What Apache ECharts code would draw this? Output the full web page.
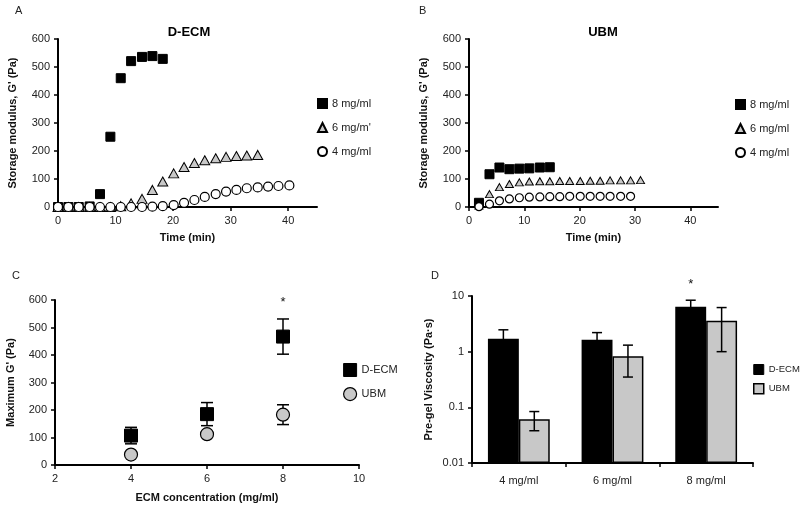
<!DOCTYPE html>
<html><head><meta charset="utf-8">
<script src="https://cdn.jsdelivr.net/npm/echarts@6/dist/echarts.min.js"></script>
<style>html,body{margin:0;padding:0;background:#fff}#c{width:800px;height:508px}</style>
</head><body><div id="c"></div>
<script>
// ---------- Panel A: D-ECM storage modulus vs time ----------
const timeA8 = [0, 1.8, 3.6, 5.5, 7.3, 9.1, 10.9, 12.7, 14.6, 16.4, 18.2];
const gA8    = [0, 0, 0, 2, 46, 251, 460, 521, 536, 539, 529];
const timeA6 = [0, 1.8, 3.6, 5.5, 7.3, 9.1, 10.9, 12.7, 14.6, 16.4, 18.2, 20.1, 21.9, 23.7, 25.5, 27.4, 29.2, 31.0, 32.8, 34.7];
const gA6    = [0, 0, 0, 0, 0, 0, 3, 13, 29, 61, 91, 120, 143, 157, 167, 174, 179, 182, 184, 186];
const timeA4 = [0, 1.8, 3.6, 5.5, 7.3, 9.1, 10.9, 12.7, 14.6, 16.4, 18.2, 20.1, 21.9, 23.7, 25.5, 27.4, 29.2, 31.0, 32.8, 34.7, 36.5, 38.3, 40.2];
const gA4    = [0, 0, 0, 0, 0, 0, 0, 0, 0, 1, 3, 7, 15, 25, 36, 46, 55, 61, 67, 70, 73, 75, 77];
const legendA = ["8 mg/ml", "6 mg/m'", "4 mg/ml"];

// ---------- Panel B: UBM storage modulus vs time ----------
const timeB8 = [1.8, 3.7, 5.5, 7.3, 9.1, 10.9, 12.8, 14.6];
const gB8    = [15, 117, 141, 135, 137, 138, 141, 142];
const timeB6 = [1.8, 3.7, 5.5, 7.3, 9.1, 10.9, 12.8, 14.6, 16.4, 18.2, 20.1, 21.9, 23.7, 25.5, 27.4, 29.2, 31.0];
const gB6    = [5, 46, 71, 82, 88, 91, 92, 92, 93, 93, 93, 94, 94, 95, 95, 95, 96];
const timeB4 = [1.8, 3.7, 5.5, 7.3, 9.1, 10.9, 12.8, 14.6, 16.4, 18.2, 20.1, 21.9, 23.7, 25.5, 27.4, 29.2];
const gB4    = [1, 10, 22, 29, 33, 35, 36, 37, 37, 38, 38, 38, 38, 38, 38, 38];
const legendB = ["8 mg/ml", "6 mg/ml", "4 mg/ml"];

// ---------- Panel C: maximum G' vs concentration ----------
const concC   = [4, 6, 8];
const dEcmMax = [107, 185, 467];
const dEcmSdC = [30, 42, 64];
const ubmMax  = [38, 112, 183];
const ubmSdC  = [5, 8, 36];
const starC   = [[8, 590]];

// ---------- Panel D: pre-gel viscosity ----------
const catsD    = ['4 mg/ml', '6 mg/ml', '8 mg/ml'];
const dEcmVisc = [1.71, 1.64, 6.4];
const dEcmSdD  = [0.76, 0.56, 2.0];
const ubmVisc  = [0.061, 0.83, 3.6];
const ubmSdD   = [0.023, 0.48, 2.6];
const starD    = [[2, 16]];

const FONT = 'Liberation Sans, Arial, sans-serif';
const zip = (a, b) => a.map((v, i) => [v, b[i]]);

function axisBase(extra) {
  return Object.assign({
    axisLine: { show: true, onZero: false, lineStyle: { color: '#000', width: 2 } },
    axisTick: { show: true, inside: false, length: 4, lineStyle: { color: '#000', width: 1.5 } },
    axisLabel: { color: '#222', fontSize: 11, fontFamily: FONT },
    splitLine: { show: false },
    nameTextStyle: { color: '#111', fontSize: 11, fontWeight: 'bold', fontFamily: FONT }
  }, extra);
}

const grids = [
  { left: 58, top: 39, width: 259, height: 168 },
  { left: 469, top: 39, width: 249, height: 168 },
  { left: 55, top: 300, width: 304, height: 165 },
  { left: 472, top: 296, width: 281, height: 167 }
];

const xAxes = [
  axisBase({ gridIndex: 0, type: 'value', min: 0, max: 45, interval: 10, name: 'Time (min)', nameLocation: 'middle', nameGap: 25,
    axisLabel: { color: '#222', fontSize: 11, fontFamily: FONT, showMaxLabel: false } }),
  axisBase({ gridIndex: 1, type: 'value', min: 0, max: 45, interval: 10, name: 'Time (min)', nameLocation: 'middle', nameGap: 25,
    axisLabel: { color: '#222', fontSize: 11, fontFamily: FONT, showMaxLabel: false } }),
  axisBase({ gridIndex: 2, type: 'value', min: 2, max: 10, interval: 2, name: 'ECM concentration (mg/ml)', nameLocation: 'middle', nameGap: 27 }),
  axisBase({ gridIndex: 3, type: 'category', data: catsD, axisLabel: { color: '#222', fontSize: 11, fontFamily: FONT, margin: 12 } })
];

const yAxes = [
  axisBase({ gridIndex: 0, type: 'value', min: 0, max: 600, interval: 100, name: "Storage modulus, G' (Pa)", nameLocation: 'middle', nameGap: 40 }),
  axisBase({ gridIndex: 1, type: 'value', min: 0, max: 600, interval: 100, name: "Storage modulus, G' (Pa)", nameLocation: 'middle', nameGap: 40 }),
  axisBase({ gridIndex: 2, type: 'value', min: 0, max: 600, interval: 100, name: "Maximum G' (Pa)", nameLocation: 'middle', nameGap: 39 }),
  axisBase({ gridIndex: 3, type: 'log', logBase: 10, min: 0.01, max: 10, startValue: 0.01, name: 'Pre-gel Viscosity (Pa·s)', nameLocation: 'middle', nameGap: 38,
    axisLabel: { color: '#222', fontSize: 11, fontFamily: FONT, formatter: v => String(+v.toPrecision(2)) } })
];

const sq = { color: '#000', borderColor: '#000', borderWidth: 1, opacity: 1 };
const tri = { color: '#c8c8c8', borderColor: '#000', borderWidth: 1, opacity: 1 };
const circ = { color: '#fff', borderColor: '#000', borderWidth: 1.2, opacity: 1 };
const greyCirc = { color: '#c8c8c8', borderColor: '#000', borderWidth: 1.2, opacity: 1 };

function errBarC(xi, yi, means, sds, hw) {
  return {
    type: 'custom', xAxisIndex: xi, yAxisIndex: yi, z: 1, silent: true,
    data: concC.map((c, i) => [c, means[i], sds[i]]),
    renderItem: (p, api) => {
      const x = api.value(0), y = api.value(1), e = api.value(2);
      const t = api.coord([x, y + e]), b = api.coord([x, y - e]);
      const st = { stroke: '#000', lineWidth: 1.5 };
      return { type: 'group', children: [
        { type: 'line', shape: { x1: t[0], y1: t[1], x2: b[0], y2: b[1] }, style: st },
        { type: 'line', shape: { x1: t[0] - hw, y1: t[1], x2: t[0] + hw, y2: t[1] }, style: st },
        { type: 'line', shape: { x1: b[0] - hw, y1: b[1], x2: b[0] + hw, y2: b[1] }, style: st }
      ] };
    }
  };
}

function errBarD(means, sds, off) {
  return {
    type: 'custom', xAxisIndex: 3, yAxisIndex: 3, z: 5, silent: true,
    data: means.map((m, i) => [i, m, sds[i]]),
    renderItem: (p, api) => {
      const i = api.value(0), y = api.value(1), e = api.value(2);
      const band = api.coord([1, 1])[0] - api.coord([0, 1])[0];
      const t = api.coord([i, y + e]), b = api.coord([i, y - e]);
      const x = t[0] + off * band, hw = 5;
      const st = { stroke: '#000', lineWidth: 1.5 };
      return { type: 'group', children: [
        { type: 'line', shape: { x1: x, y1: t[1], x2: x, y2: b[1] }, style: st },
        { type: 'line', shape: { x1: x - hw, y1: t[1], x2: x + hw, y2: t[1] }, style: st },
        { type: 'line', shape: { x1: x - hw, y1: b[1], x2: x + hw, y2: b[1] }, style: st }
      ] };
    }
  };
}

function starSeries(xi, yi, pts, off) {
  return {
    type: 'custom', xAxisIndex: xi, yAxisIndex: yi, z: 6, silent: true, clip: false,
    data: pts,
    renderItem: (p, api) => {
      const c = api.coord([api.value(0), api.value(1)]);
      let dx = 0;
      if (off) dx = off * (api.coord([1, 1])[0] - api.coord([0, 1])[0]);
      return { type: 'text', x: c[0] + dx, y: c[1], style: { text: '*', fill: '#111', fontSize: 13, fontFamily: FONT, align: 'center', verticalAlign: 'middle' } };
    }
  };
}

const series = [
  { name: legendA[0], type: 'scatter', xAxisIndex: 0, yAxisIndex: 0, symbol: 'rect', symbolSize: 9, itemStyle: sq, data: zip(timeA8, gA8), clip: false },
  { name: legendA[1], type: 'scatter', xAxisIndex: 0, yAxisIndex: 0, symbol: 'triangle', symbolSize: [10, 9], itemStyle: tri, data: zip(timeA6, gA6), clip: false },
  { name: legendA[2], type: 'scatter', xAxisIndex: 0, yAxisIndex: 0, symbol: 'circle', symbolSize: 9, itemStyle: circ, data: zip(timeA4, gA4), clip: false },
  { name: legendB[0], type: 'scatter', xAxisIndex: 1, yAxisIndex: 1, symbol: 'rect', symbolSize: 9, itemStyle: sq, data: zip(timeB8, gB8), clip: false },
  { name: legendB[1], type: 'scatter', xAxisIndex: 1, yAxisIndex: 1, symbol: 'triangle', symbolSize: [8, 7], itemStyle: tri, data: zip(timeB6, gB6), clip: false },
  { name: legendB[2], type: 'scatter', xAxisIndex: 1, yAxisIndex: 1, symbol: 'circle', symbolSize: 8, itemStyle: circ, data: zip(timeB4, gB4), clip: false },
  errBarC(2, 2, dEcmMax, dEcmSdC, 6),
  errBarC(2, 2, ubmMax, ubmSdC, 6),
  { name: 'D-ECM', type: 'scatter', xAxisIndex: 2, yAxisIndex: 2, z: 3, symbol: 'rect', symbolSize: 13, itemStyle: sq, data: zip(concC, dEcmMax) },
  { name: 'UBM', type: 'scatter', xAxisIndex: 2, yAxisIndex: 2, z: 3, symbol: 'circle', symbolSize: 13, itemStyle: greyCirc, data: zip(concC, ubmMax) },
  starSeries(2, 2, starC, 0),
  { name: 'D-ECM', type: 'bar', xAxisIndex: 3, yAxisIndex: 3, barGap: 0, barCategoryGap: '34%', itemStyle: { color: '#000', borderColor: '#000', borderWidth: 1.5 }, data: dEcmVisc },
  { name: 'UBM', type: 'bar', xAxisIndex: 3, yAxisIndex: 3, barGap: 0, barCategoryGap: '34%', itemStyle: { color: '#c8c8c8', borderColor: '#000', borderWidth: 1.5 }, data: ubmVisc },
  errBarD(dEcmVisc, dEcmSdD, -0.165),
  errBarD(ubmVisc, ubmSdD, 0.165),
  starSeries(3, 3, starD, -0.165)
];

const legTxt = { color: '#222', fontSize: 11, fontFamily: FONT };
const legends = [
  { orient: 'vertical', padding: 0, left: 317, top: 98, itemWidth: 9, itemHeight: 9, itemGap: 13, itemTextGap: 2, textStyle: legTxt, selectedMode: false, data: legendA },
  { orient: 'vertical', padding: 0, left: 735, top: 99, itemWidth: 9, itemHeight: 9, itemGap: 13, itemTextGap: 2, textStyle: legTxt, selectedMode: false, data: legendB },
  { orient: 'vertical', padding: 0, left: 343, top: 363, itemWidth: 13, itemHeight: 13, itemGap: 10, itemTextGap: 1, textStyle: legTxt, selectedMode: false,
    data: [ { name: 'D-ECM', icon: 'rect', itemStyle: sq }, { name: 'UBM', icon: 'circle', itemStyle: greyCirc } ] },
  { orient: 'vertical', padding: 0, left: 753, top: 364, itemWidth: 10, itemHeight: 10, itemGap: 8, itemTextGap: 1, textStyle: { color: '#222', fontSize: 9.5, fontFamily: FONT }, selectedMode: false,
    data: [ { name: 'D-ECM', icon: 'rect', itemStyle: { color: '#000', borderColor: '#000', borderWidth: 1, opacity: 1 } }, { name: 'UBM', icon: 'rect', itemStyle: { color: '#c8c8c8', borderColor: '#000', borderWidth: 1.5, opacity: 1 } } ] }
];

const letter = (t, l, tp) => ({ text: t, left: l, top: tp, padding: 0, textStyle: { color: '#222', fontSize: 11, fontWeight: 'normal', fontFamily: FONT } });
const titles = [
  letter('A', 15, 5), letter('B', 419, 5), letter('C', 12, 270), letter('D', 431, 270),
  { text: 'D-ECM', left: 189, top: 26, padding: 0, textAlign: 'center', textStyle: { color: '#000', fontSize: 13, fontWeight: 'bold', fontFamily: FONT } },
  { text: 'UBM', left: 603, top: 26, padding: 0, textAlign: 'center', textStyle: { color: '#000', fontSize: 13, fontWeight: 'bold', fontFamily: FONT } }
];

const chart = echarts.init(document.getElementById('c'), null, { renderer: 'canvas' });
chart.setOption({
  animation: false,
  backgroundColor: '#fff',
  textStyle: { fontFamily: FONT },
  title: titles,
  legend: legends,
  grid: grids,
  xAxis: xAxes,
  yAxis: yAxes,
  series: series
});
</script>
</body></html>
